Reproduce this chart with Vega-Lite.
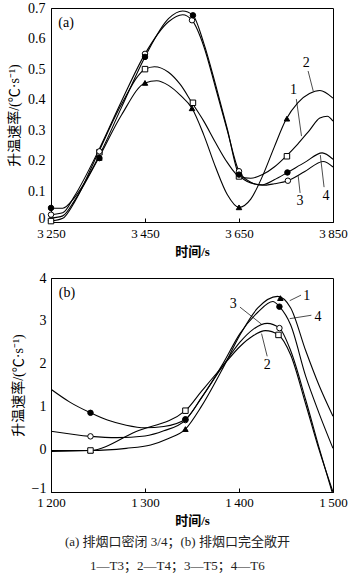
{
  "$schema": "https://vega.github.io/schema/vega-lite/v6.json",
  "background": "white",
  "padding": {"left": 7, "right": 0, "top": 0, "bottom": 5},
  "spacing": 11,
  "config": {
    "view": {"stroke": "black", "strokeWidth": 1},
    "axis": {
      "grid": false,
      "domainColor": "black",
      "tickColor": "black",
      "labelColor": "black",
      "titleColor": "black",
      "labelFont": "Liberation Serif",
      "labelFontSize": 14,
      "labelFlush": false,
      "labelOverlap": false,
      "titleFont": "Liberation Serif, Noto Sans CJK SC",
      "titleFontSize": 13
    },
    "text": {"font": "Liberation Serif", "fontSize": 14, "color": "black"}
  },
  "title": {
    "text": ["(a) 排烟口密闭 3/4；(b) 排烟口完全敞开", "1—T3；2—T4；3—T5；4—T6"],
    "orient": "bottom",
    "anchor": "middle",
    "font": "Liberation Serif, Noto Sans CJK SC",
    "fontSize": 13,
    "fontWeight": "normal",
    "lineHeight": 24,
    "color": "#222",
    "offset": 8
  },
  "datasets": {
    "a_lines": [
      {"curve": "T3", "t": 3250, "v": 0.013}, {"curve": "T3", "t": 3275, "v": 0.02}, {"curve": "T3", "t": 3300, "v": 0.07}, {"curve": "T3", "t": 3350, "v": 0.205}, {"curve": "T3", "t": 3400, "v": 0.35}, {"curve": "T3", "t": 3450, "v": 0.455}, {"curve": "T3", "t": 3475, "v": 0.462}, {"curve": "T3", "t": 3500, "v": 0.447}, {"curve": "T3", "t": 3525, "v": 0.415}, {"curve": "T3", "t": 3550, "v": 0.372}, {"curve": "T3", "t": 3575, "v": 0.285}, {"curve": "T3", "t": 3600, "v": 0.18}, {"curve": "T3", "t": 3625, "v": 0.09}, {"curve": "T3", "t": 3650, "v": 0.048}, {"curve": "T3", "t": 3675, "v": 0.075}, {"curve": "T3", "t": 3700, "v": 0.15}, {"curve": "T3", "t": 3725, "v": 0.245}, {"curve": "T3", "t": 3750, "v": 0.335}, {"curve": "T3", "t": 3775, "v": 0.39}, {"curve": "T3", "t": 3800, "v": 0.42}, {"curve": "T3", "t": 3822, "v": 0.43}, {"curve": "T3", "t": 3850, "v": 0.405},
      {"curve": "T4", "t": 3250, "v": 0.003}, {"curve": "T4", "t": 3275, "v": 0.012}, {"curve": "T4", "t": 3300, "v": 0.065}, {"curve": "T4", "t": 3350, "v": 0.225}, {"curve": "T4", "t": 3400, "v": 0.385}, {"curve": "T4", "t": 3450, "v": 0.5}, {"curve": "T4", "t": 3470, "v": 0.508}, {"curve": "T4", "t": 3500, "v": 0.49}, {"curve": "T4", "t": 3525, "v": 0.45}, {"curve": "T4", "t": 3550, "v": 0.39}, {"curve": "T4", "t": 3575, "v": 0.33}, {"curve": "T4", "t": 3600, "v": 0.26}, {"curve": "T4", "t": 3625, "v": 0.195}, {"curve": "T4", "t": 3650, "v": 0.15}, {"curve": "T4", "t": 3675, "v": 0.143}, {"curve": "T4", "t": 3700, "v": 0.155}, {"curve": "T4", "t": 3725, "v": 0.18}, {"curve": "T4", "t": 3750, "v": 0.215}, {"curve": "T4", "t": 3775, "v": 0.255}, {"curve": "T4", "t": 3800, "v": 0.3}, {"curve": "T4", "t": 3822, "v": 0.34}, {"curve": "T4", "t": 3838, "v": 0.346}, {"curve": "T4", "t": 3850, "v": 0.33},
      {"curve": "T5", "t": 3250, "v": 0.024}, {"curve": "T5", "t": 3275, "v": 0.03}, {"curve": "T5", "t": 3300, "v": 0.085}, {"curve": "T5", "t": 3350, "v": 0.23}, {"curve": "T5", "t": 3400, "v": 0.395}, {"curve": "T5", "t": 3450, "v": 0.55}, {"curve": "T5", "t": 3500, "v": 0.655}, {"curve": "T5", "t": 3530, "v": 0.678}, {"curve": "T5", "t": 3550, "v": 0.66}, {"curve": "T5", "t": 3575, "v": 0.575}, {"curve": "T5", "t": 3600, "v": 0.44}, {"curve": "T5", "t": 3625, "v": 0.3}, {"curve": "T5", "t": 3650, "v": 0.166}, {"curve": "T5", "t": 3675, "v": 0.13}, {"curve": "T5", "t": 3700, "v": 0.12}, {"curve": "T5", "t": 3725, "v": 0.125}, {"curve": "T5", "t": 3754, "v": 0.135}, {"curve": "T5", "t": 3790, "v": 0.165}, {"curve": "T5", "t": 3829, "v": 0.198}, {"curve": "T5", "t": 3850, "v": 0.18},
      {"curve": "T6", "t": 3250, "v": 0.046}, {"curve": "T6", "t": 3275, "v": 0.045}, {"curve": "T6", "t": 3300, "v": 0.08}, {"curve": "T6", "t": 3350, "v": 0.209}, {"curve": "T6", "t": 3400, "v": 0.375}, {"curve": "T6", "t": 3450, "v": 0.54}, {"curve": "T6", "t": 3500, "v": 0.665}, {"curve": "T6", "t": 3530, "v": 0.69}, {"curve": "T6", "t": 3552, "v": 0.676}, {"curve": "T6", "t": 3575, "v": 0.585}, {"curve": "T6", "t": 3600, "v": 0.45}, {"curve": "T6", "t": 3625, "v": 0.305}, {"curve": "T6", "t": 3650, "v": 0.155}, {"curve": "T6", "t": 3675, "v": 0.128}, {"curve": "T6", "t": 3700, "v": 0.122}, {"curve": "T6", "t": 3725, "v": 0.138}, {"curve": "T6", "t": 3753, "v": 0.162}, {"curve": "T6", "t": 3790, "v": 0.195}, {"curve": "T6", "t": 3827, "v": 0.226}, {"curve": "T6", "t": 3850, "v": 0.205}
    ],
    "a_marks": [
      {"curve": "T3", "t": 3250, "v": 0.013}, {"curve": "T3", "t": 3353, "v": 0.21}, {"curve": "T3", "t": 3450, "v": 0.455}, {"curve": "T3", "t": 3550, "v": 0.372}, {"curve": "T3", "t": 3650, "v": 0.048}, {"curve": "T3", "t": 3752, "v": 0.338},
      {"curve": "T4", "t": 3250, "v": 0.003}, {"curve": "T4", "t": 3353, "v": 0.228}, {"curve": "T4", "t": 3450, "v": 0.5}, {"curve": "T4", "t": 3552, "v": 0.39}, {"curve": "T4", "t": 3650, "v": 0.149}, {"curve": "T4", "t": 3752, "v": 0.215},
      {"curve": "T5", "t": 3250, "v": 0.024}, {"curve": "T5", "t": 3353, "v": 0.231}, {"curve": "T5", "t": 3450, "v": 0.55}, {"curve": "T5", "t": 3550, "v": 0.66}, {"curve": "T5", "t": 3650, "v": 0.166}, {"curve": "T5", "t": 3754, "v": 0.135},
      {"curve": "T6", "t": 3250, "v": 0.046}, {"curve": "T6", "t": 3353, "v": 0.209}, {"curve": "T6", "t": 3450, "v": 0.54}, {"curve": "T6", "t": 3552, "v": 0.676}, {"curve": "T6", "t": 3650, "v": 0.155}, {"curve": "T6", "t": 3753, "v": 0.162}
    ],
    "a_labels": [
      {"label": "(a)", "t": 3282, "v": 0.651},
      {"label": "2", "t": 3793, "v": 0.52},
      {"label": "1", "t": 3766, "v": 0.432},
      {"label": "3", "t": 3780, "v": 0.069},
      {"label": "4", "t": 3835, "v": 0.085}
    ],
    "a_leaders": [
      {"t": 3797, "v": 0.494, "t2": 3808, "v2": 0.428},
      {"t": 3772, "v": 0.402, "t2": 3783, "v2": 0.281},
      {"t": 3780, "v": 0.095, "t2": 3776, "v2": 0.15},
      {"t": 3831, "v": 0.114, "t2": 3823, "v2": 0.219}
    ],
    "b_lines": [
      {"curve": "T3", "t": 1200, "v": -0.03}, {"curve": "T3", "t": 1242, "v": -0.03}, {"curve": "T3", "t": 1280, "v": 0.02}, {"curve": "T3", "t": 1306, "v": 0.1}, {"curve": "T3", "t": 1325, "v": 0.25}, {"curve": "T3", "t": 1343, "v": 0.47}, {"curve": "T3", "t": 1360, "v": 1.0}, {"curve": "T3", "t": 1383, "v": 1.9}, {"curve": "T3", "t": 1401, "v": 2.67}, {"curve": "T3", "t": 1420, "v": 3.3}, {"curve": "T3", "t": 1441, "v": 3.57}, {"curve": "T3", "t": 1455, "v": 3.3}, {"curve": "T3", "t": 1471, "v": 2.3}, {"curve": "T3", "t": 1485, "v": 1.5}, {"curve": "T3", "t": 1500, "v": 0.77},
      {"curve": "T4", "t": 1200, "v": -0.05}, {"curve": "T4", "t": 1242, "v": -0.03}, {"curve": "T4", "t": 1290, "v": 0.41}, {"curve": "T4", "t": 1343, "v": 0.9}, {"curve": "T4", "t": 1360, "v": 1.35}, {"curve": "T4", "t": 1383, "v": 1.95}, {"curve": "T4", "t": 1401, "v": 2.4}, {"curve": "T4", "t": 1415, "v": 2.65}, {"curve": "T4", "t": 1428, "v": 2.77}, {"curve": "T4", "t": 1442, "v": 2.67}, {"curve": "T4", "t": 1455, "v": 2.2}, {"curve": "T4", "t": 1471, "v": 1.05}, {"curve": "T4", "t": 1485, "v": 0.0}, {"curve": "T4", "t": 1500, "v": -1.0},
      {"curve": "T5", "t": 1200, "v": 0.42}, {"curve": "T5", "t": 1242, "v": 0.3}, {"curve": "T5", "t": 1270, "v": 0.27}, {"curve": "T5", "t": 1300, "v": 0.31}, {"curve": "T5", "t": 1320, "v": 0.43}, {"curve": "T5", "t": 1343, "v": 0.68}, {"curve": "T5", "t": 1360, "v": 1.2}, {"curve": "T5", "t": 1383, "v": 1.95}, {"curve": "T5", "t": 1401, "v": 2.5}, {"curve": "T5", "t": 1415, "v": 2.8}, {"curve": "T5", "t": 1430, "v": 2.94}, {"curve": "T5", "t": 1443, "v": 2.83}, {"curve": "T5", "t": 1455, "v": 2.3}, {"curve": "T5", "t": 1471, "v": 1.15}, {"curve": "T5", "t": 1485, "v": 0.05}, {"curve": "T5", "t": 1499, "v": -1.0},
      {"curve": "T6", "t": 1200, "v": 1.4}, {"curve": "T6", "t": 1220, "v": 1.1}, {"curve": "T6", "t": 1242, "v": 0.85}, {"curve": "T6", "t": 1260, "v": 0.68}, {"curve": "T6", "t": 1280, "v": 0.56}, {"curve": "T6", "t": 1300, "v": 0.5}, {"curve": "T6", "t": 1320, "v": 0.53}, {"curve": "T6", "t": 1343, "v": 0.7}, {"curve": "T6", "t": 1360, "v": 1.2}, {"curve": "T6", "t": 1383, "v": 2.0}, {"curve": "T6", "t": 1401, "v": 2.7}, {"curve": "T6", "t": 1420, "v": 3.2}, {"curve": "T6", "t": 1436, "v": 3.45}, {"curve": "T6", "t": 1443, "v": 3.33}, {"curve": "T6", "t": 1455, "v": 2.9}, {"curve": "T6", "t": 1471, "v": 1.7}, {"curve": "T6", "t": 1485, "v": 0.85}, {"curve": "T6", "t": 1500, "v": 0.02}
    ],
    "b_marks": [
      {"curve": "T3", "t": 1242, "v": -0.03}, {"curve": "T3", "t": 1343, "v": 0.47}, {"curve": "T3", "t": 1444, "v": 3.53},
      {"curve": "T4", "t": 1242, "v": -0.03}, {"curve": "T4", "t": 1343, "v": 0.9}, {"curve": "T4", "t": 1442, "v": 2.67},
      {"curve": "T5", "t": 1242, "v": 0.3}, {"curve": "T5", "t": 1343, "v": 0.68}, {"curve": "T5", "t": 1443, "v": 2.83},
      {"curve": "T6", "t": 1242, "v": 0.85}, {"curve": "T6", "t": 1343, "v": 0.7}, {"curve": "T6", "t": 1443, "v": 3.33}
    ],
    "b_labels": [
      {"label": "(b)", "t": 1217, "v": 3.64},
      {"label": "1", "t": 1472, "v": 3.57},
      {"label": "4", "t": 1484, "v": 3.08},
      {"label": "3", "t": 1394, "v": 3.39},
      {"label": "2", "t": 1430, "v": 1.96}
    ],
    "b_leaders": [
      {"t": 1466, "v": 3.6, "t2": 1454, "v2": 3.47},
      {"t": 1477, "v": 3.13, "t2": 1454, "v2": 3.05},
      {"t": 1401, "v": 3.32, "t2": 1424, "v2": 2.92},
      {"t": 1430, "v": 2.17, "t2": 1424, "v2": 2.7}
    ]
  },
  "resolve": {"scale": {"x": "independent", "y": "independent"}},
  "vconcat": [
    {
      "width": 282,
      "height": 214,
      "encoding": {
        "x": {"field": "t", "type": "quantitative", "scale": {"domain": [3250, 3850], "nice": false, "zero": false},
          "axis": {"title": "时间/s", "titleFontWeight": "bold", "values": [3250, 3450, 3650, 3850], "tickSize": -4, "labelFontSize": 13, "labelPadding": 9, "labelExpr": "replace(format(datum.value, ','), ',', '\u2009')", "titlePadding": 5}},
        "y": {"field": "v", "type": "quantitative", "scale": {"domain": [0, 0.7], "nice": false},
          "axis": {"title": "升温速率/(℃·s⁻¹)", "titleFontWeight": "normal", "titleFontSize": 14, "values": [0, 0.1, 0.2, 0.3, 0.4, 0.5, 0.6, 0.7], "ticks": false, "labelPadding": 6, "labelOffset": {"condition": {"test": "datum.value == 0", "value": -4}, "value": 0}, "labelExpr": "datum.value == 0 ? '0' : format(datum.value, '.1f')", "titlePadding": 6}}
      },
      "layer": [
        {"data": {"name": "a_lines"}, "mark": {"type": "line", "interpolate": "monotone", "color": "black", "strokeWidth": 1.1, "clip": true},
          "encoding": {"detail": {"field": "curve"}}},
        {"data": {"name": "a_leaders"}, "mark": {"type": "rule", "color": "black", "strokeWidth": 0.7},
          "encoding": {"x2": {"field": "t2"}, "y2": {"field": "v2"}}},
        {"data": {"name": "a_marks"}, "mark": {"type": "point", "filled": true, "stroke": "black", "strokeWidth": 1, "opacity": 1},
          "encoding": {
            "shape": {"field": "curve", "type": "nominal", "scale": {"domain": ["T3", "T4", "T5", "T6"], "range": ["triangle-up", "square", "circle", "circle"]}, "legend": null},
            "fill": {"field": "curve", "type": "nominal", "scale": {"domain": ["T3", "T4", "T5", "T6"], "range": ["black", "white", "white", "black"]}, "legend": null},
            "size": {"field": "curve", "type": "nominal", "scale": {"domain": ["T3", "T4", "T5", "T6"], "range": [30, 30, 14, 24]}, "legend": null}
          }},
        {"data": {"name": "a_labels"}, "mark": {"type": "text", "font": "Liberation Serif", "fontSize": 14, "color": "black"},
          "encoding": {"text": {"field": "label"}}}
      ]
    },
    {
      "width": 282,
      "height": 214,
      "encoding": {
        "x": {"field": "t", "type": "quantitative", "scale": {"domain": [1200, 1500], "nice": false, "zero": false},
          "axis": {"title": "时间/s", "titleFontWeight": "bold", "values": [1200, 1300, 1400, 1500], "tickSize": -4, "labelFontSize": 13, "labelPadding": 8, "labelExpr": "replace(format(datum.value, ','), ',', '\u2009')", "titlePadding": 5}},
        "y": {"field": "v", "type": "quantitative", "scale": {"domain": [-1, 4], "nice": false},
          "axis": {"title": "升温速率/(℃·s⁻¹)", "titleFontWeight": "normal", "titleFontSize": 14, "values": [-1, 0, 1, 2, 3, 4], "ticks": false, "labelPadding": 5, "labelOffset": {"condition": {"test": "datum.value == -1", "value": -4}, "value": 0}, "titlePadding": 6}}
      },
      "layer": [
        {"data": {"name": "b_lines"}, "mark": {"type": "line", "interpolate": "monotone", "color": "black", "strokeWidth": 1.1, "clip": true},
          "encoding": {"detail": {"field": "curve"}}},
        {"data": {"name": "b_leaders"}, "mark": {"type": "rule", "color": "black", "strokeWidth": 0.7},
          "encoding": {"x2": {"field": "t2"}, "y2": {"field": "v2"}}},
        {"data": {"name": "b_marks"}, "mark": {"type": "point", "filled": true, "stroke": "black", "strokeWidth": 1, "opacity": 1},
          "encoding": {
            "shape": {"field": "curve", "type": "nominal", "scale": {"domain": ["T3", "T4", "T5", "T6"], "range": ["triangle-up", "square", "circle", "circle"]}, "legend": null},
            "fill": {"field": "curve", "type": "nominal", "scale": {"domain": ["T3", "T4", "T5", "T6"], "range": ["black", "white", "white", "black"]}, "legend": null},
            "size": {"field": "curve", "type": "nominal", "scale": {"domain": ["T3", "T4", "T5", "T6"], "range": [30, 30, 14, 24]}, "legend": null}
          }},
        {"data": {"name": "b_labels"}, "mark": {"type": "text", "font": "Liberation Serif", "fontSize": 14, "color": "black"},
          "encoding": {"text": {"field": "label"}}}
      ]
    }
  ]
}
